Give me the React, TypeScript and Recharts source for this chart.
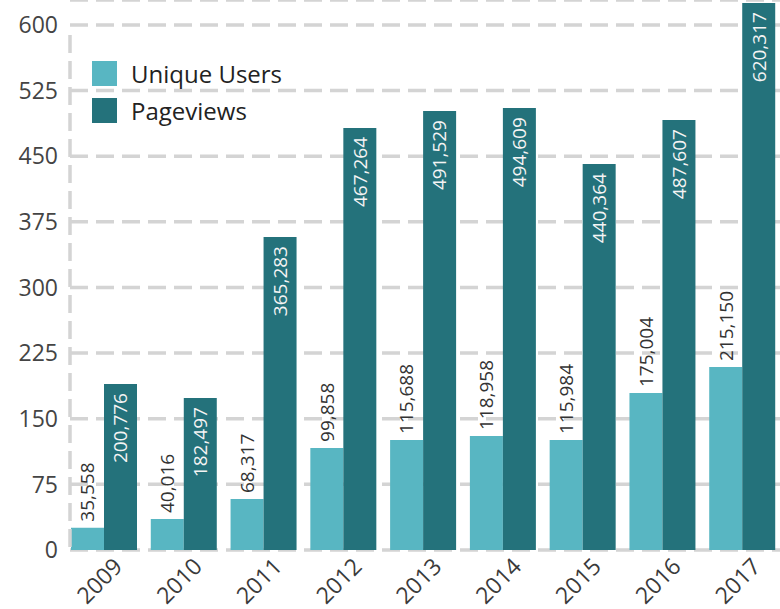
import * as React from "react";
import {
  BarChart,
  Bar,
  XAxis,
  YAxis,
  CartesianGrid,
  Legend,
  LabelList,
} from "recharts";

// bar heights as drawn (in thousands), labels as printed on the bars
const years = ["2009", "2010", "2011", "2012", "2013", "2014", "2015", "2016", "2017"];
const uniqueUsers = [25.5, 35.4, 58.3, 116.6, 125.7, 130.3, 125.7, 179.4, 209.1];
const pageviews = [189.7, 173.7, 357.7, 482.3, 501.7, 505, 441, 491.4, 625];
const uniqueUsersLabels = ["35,558", "40,016", "68,317", "99,858", "115,688", "118,958", "115,984", "175,004", "215,150"];
const pageviewsLabels = ["200,776", "182,497", "365,283", "467,264", "491,529", "494,609", "440,364", "487,607", "620,317"];
const yTicks = [0, 75, 150, 225, 300, 375, 450, 525, 600];
const seriesNames = ["Unique Users", "Pageviews"];

const UU_COLOR = "#58b6c2";
const PV_COLOR = "#24727b";
const GRID = "#d4d4d4";
const FONT = "'Open Sans', sans-serif";

const chartData = years.map((year, i) => ({
  year,
  uu: uniqueUsers[i],
  pv: pageviews[i],
  uuLabel: uniqueUsersLabels[i],
  pvLabel: pageviewsLabels[i],
}));

const axisDash = "0 35 " + Array(22).fill("18 8").join(" ");

function UsersLabel(props: any) {
  const { x, y, width, value } = props;
  const cx = x + width / 2;
  const ay = y - 6;
  return (
    <text
      x={cx}
      y={ay}
      dy="0.36em"
      transform={`rotate(-90, ${cx}, ${ay})`}
      textAnchor="start"
      fill="#333"
      fontSize={19}
      fontFamily={FONT}
    >
      {value}
    </text>
  );
}

function ViewsLabel(props: any) {
  const { x, y, width, value } = props;
  const cx = x + width / 2;
  const ay = y + 9;
  return (
    <text
      x={cx}
      y={ay}
      dy="0.36em"
      transform={`rotate(-90, ${cx}, ${ay})`}
      textAnchor="end"
      fill="#f4f4f4"
      fontSize={19}
      fontFamily={FONT}
    >
      {value}
    </text>
  );
}

function YearTick(props: any) {
  const { x, y, payload } = props;
  const ax = x + 20;
  const ay = y + 18;
  return (
    <text
      x={ax}
      y={ay}
      transform={`rotate(-45, ${ax}, ${ay})`}
      textAnchor="end"
      fill="#3a3a3a"
      fontSize={23}
      fontFamily={FONT}
    >
      {payload.value}
    </text>
  );
}

function LegendBox({ payload }: any) {
  const items = [...(payload ?? [])].sort(
    (a: any, b: any) => seriesNames.indexOf(a.value) - seriesNames.indexOf(b.value)
  );
  return (
    <div style={{ fontFamily: FONT }}>
      {items.map((entry: any) => (
        <div
          key={entry.value}
          style={{ display: "flex", alignItems: "center", height: 25, marginBottom: 12 }}
        >
          <span
            style={{ display: "inline-block", width: 25, height: 25, backgroundColor: entry.color }}
          />
          <span style={{ marginLeft: 14, fontSize: 24, color: "#222", lineHeight: "25px" }}>
            {entry.value}
          </span>
        </div>
      ))}
    </div>
  );
}

export default function App() {
  return (
    <div style={{ position: "absolute", left: 0, top: 0, width: 780, height: 609, overflow: "hidden", background: "#fff" }}>
      <BarChart
        width={780}
        height={609}
        data={chartData}
        margin={{ top: 0, right: 0, bottom: 0, left: 0 }}
        barGap={0}
      >
        <CartesianGrid
          vertical={false}
          stroke={GRID}
          strokeWidth={3.5}
          strokeDasharray="18 8"
        />
        <XAxis
          dataKey="year"
          height={59}
          axisLine={false}
          tickLine={false}
          tickSize={0}
          tickMargin={0}
          padding={{ left: -6, right: -2 }}
          interval={0}
          tick={<YearTick />}
        />
        <YAxis
          width={70}
          domain={[0, 628.57]}
          ticks={yTicks}
          interval={0}
          tickLine={false}
          tickSize={6}
          tickMargin={6}
          axisLine={{ stroke: GRID, strokeWidth: 3.5, strokeDasharray: axisDash }}
          tick={{ fill: "#444", fontSize: 23, fontFamily: FONT }}
        />
        <Legend
          layout="vertical"
          align="center"
          verticalAlign="middle"
          wrapperStyle={{ left: 92, top: 61, width: "auto" }}
          content={<LegendBox />}
        />
        <Bar dataKey="uu" name="Unique Users" fill={UU_COLOR} barSize={33} isAnimationActive={false}>
          <LabelList dataKey="uuLabel" content={<UsersLabel />} />
        </Bar>
        <Bar dataKey="pv" name="Pageviews" fill={PV_COLOR} barSize={33} isAnimationActive={false}>
          <LabelList dataKey="pvLabel" content={<ViewsLabel />} />
        </Bar>
      </BarChart>
    </div>
  );
}
